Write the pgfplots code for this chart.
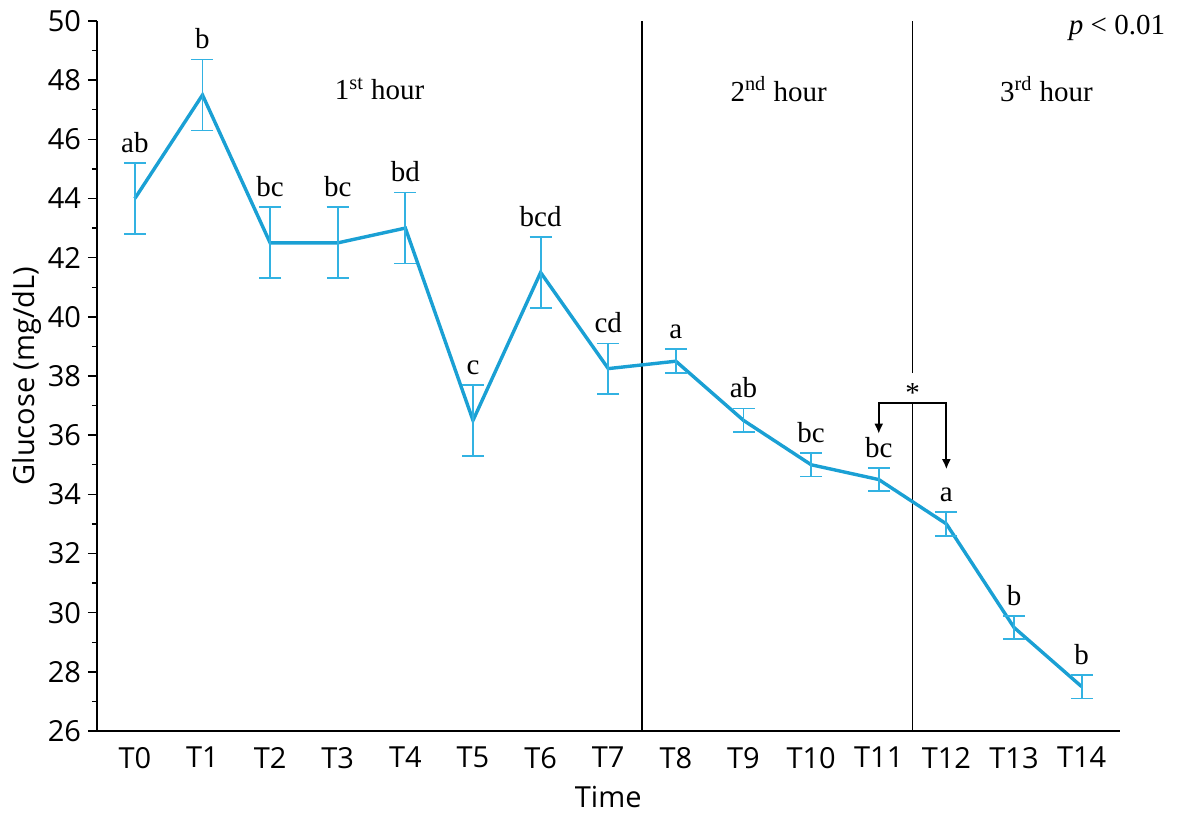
\documentclass[border=0pt]{standalone}
\usepackage{pgfplots}
\pgfplotsset{compat=1.18}
\usepackage{pgfplotstable}
\usepackage{fontspec}
\setmainfont{Liberation Serif}
\newfontfamily\sansf{Open Sans}
\usetikzlibrary{arrows.meta}
\definecolor{lc}{RGB}{26,160,212}
\definecolor{ec}{RGB}{50,178,226}

\pgfplotstableread{
x y err
0 44.0 1.2
1 47.5 1.2
2 42.5 1.2
3 42.5 1.2
4 43.0 1.2
5 36.5 1.2
6 41.5 1.2
7 38.25 0.85
8 38.5 0.4
9 36.5 0.4
10 35.0 0.4
11 34.5 0.4
12 33.0 0.4
13 29.5 0.4
14 27.5 0.4
}\data

\tikzset{lett/.style={anchor=base, yshift=5.3pt, inner sep=0pt, font=\fontsize{14.5}{16}\selectfont},
  ser/.style={font=\fontsize{14.5}{16}\selectfont}}

\begin{document}
\begin{tikzpicture}
\begin{axis}[
  scale only axis, width=511.25pt, height=355pt,
  xmin=-0.56, xmax=14.56, ymin=26, ymax=50,
  axis x line*=bottom, axis y line*=left,
  axis line style={line width=0.7pt, black},
  xtick={0,...,14},
  xticklabels={T0,T1,T2,T3,T4,T5,T6,T7,T8,T9,T10,T11,T12,T13,T14},
  x tick style={draw=none},
  ytick={26,28,...,50},
  minor y tick num=1,
  tick align=outside,
  y tick style={line width=0.7pt, black},
  major tick length=4.5pt, minor tick length=2.5pt,
  /pgf/number format/assume math mode=true,
  ticklabel style={font=\sansf\fontsize{14.5}{16}\selectfont},
  label style={font=\sansf\fontsize{14.5}{16}\selectfont},
  xlabel={Time}, ylabel={Glucose (mg/dL)},
  xlabel style={at={(axis description cs:0.5,-0.093)}, anchor=center},
  ylabel style={at={(axis description cs:-0.0685,0.5)}, anchor=center},
  clip=false,
]
\path (rel axis cs:-0.09487,-0.11408) rectangle (rel axis cs:1.05623,1.02958);
\draw[black, line width=0.9pt] (axis cs:7.5,26) -- (axis cs:7.5,50);
\draw[black, line width=0.9pt] (axis cs:11.5,26) -- (axis cs:11.5,37.09);
\draw[black, line width=0.9pt] (axis cs:11.5,38.1) -- (axis cs:11.5,50);

\addplot[lc, line width=1.7pt, no marks,
  error bars/.cd, y dir=both, y explicit,
  error bar style={line width=0.9pt, ec},
  error mark options={rotate=90, mark size=5.5pt, line width=0.9pt, ec}]
  table[x=x, y=y, y error=err] {\data};

\node[lett] at (axis cs:0,45.2) {ab};
\node[lett] at (axis cs:1,48.7) {b};
\node[lett] at (axis cs:2,43.7) {bc};
\node[lett] at (axis cs:3,43.7) {bc};
\node[lett] at (axis cs:4,44.2) {bd};
\node[lett] at (axis cs:5,37.7) {c};
\node[lett] at (axis cs:6,42.7) {bcd};
\node[lett] at (axis cs:7,39.1) {cd};
\node[lett] at (axis cs:8,38.9) {a};
\node[lett] at (axis cs:9,36.9) {ab};
\node[lett] at (axis cs:10,35.4) {bc};
\node[lett] at (axis cs:11,34.9) {bc};
\node[lett] at (axis cs:12,33.4) {a};
\node[lett] at (axis cs:13,29.9) {b};
\node[lett] at (axis cs:14,27.9) {b};

\node[ser] at (axis cs:3.62,47.7) {1\textsuperscript{st} hour};
\node[ser] at (axis cs:9.52,47.7) {2\textsuperscript{nd} hour};
\node[ser] at (axis cs:13.48,47.7) {3\textsuperscript{rd} hour};
\node[ser, anchor=east, inner sep=0pt] at (axis cs:15.24,49.75) {\textit{p} < 0.01};

\node[ser, anchor=base, inner sep=0pt] at (axis cs:11.5,37.12) {*};
\draw[black, line width=0.9pt, -{Latex[length=5pt,width=4.5pt]}] (axis cs:11.5,37.09) -- (axis cs:11,37.09) -- (axis cs:11,36.05);
\draw[black, line width=0.9pt, -{Latex[length=5pt,width=4.5pt]}] (axis cs:11.5,37.09) -- (axis cs:12,37.09) -- (axis cs:12,34.85);
\end{axis}
\end{tikzpicture}
\end{document}
